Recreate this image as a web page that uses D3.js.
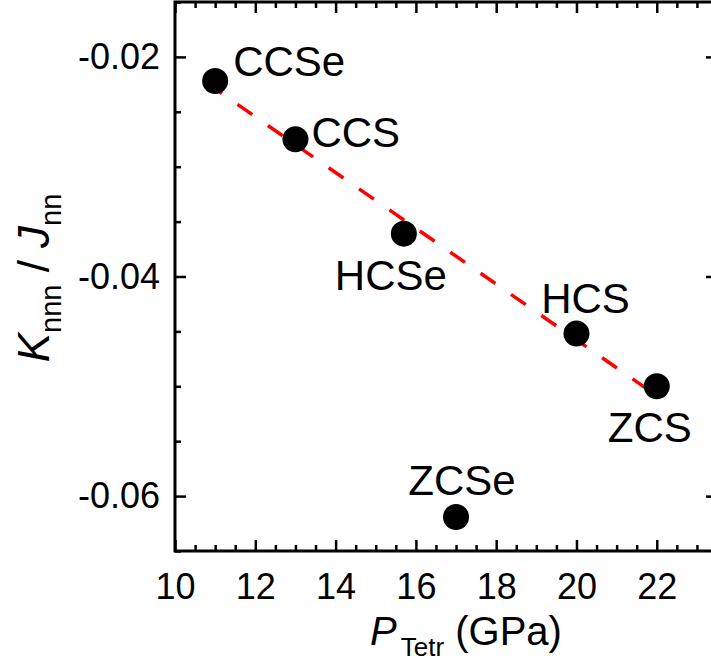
<!DOCTYPE html>
<html>
<head>
<meta charset="utf-8">
<script src="https://cdn.jsdelivr.net/npm/d3@7"></script>
<style>
  body { margin: 0; background: #fff; }
  svg { display: block; font-family: Arial, "Liberation Sans", sans-serif; }
</style>
</head>
<body>
<svg id="chart" width="711" height="666"></svg>
<script>
// compounds and their values
var names = ['CCSe', 'CCS', 'HCSe', 'HCS', 'ZCS', 'ZCSe'];
var pTetr = [11.0, 13.0, 15.7, 20.0, 22.0, 17.0];
var kRatio = [-0.0222, -0.0275, -0.0361, -0.0452, -0.0500, -0.0619];

// dashed red trend line ends
var fitX = [10.8, 21.9];
var fitY = [-0.0224, -0.0506];

var xTicks = [10, 12, 14, 16, 18, 20, 22];
var yTicks = [-0.02, -0.04, -0.06];

// label placement relative to each dot (px)
var labelPos = {
  CCSe: {dx: 18, dy: -5, anchor: 'start'},
  CCS:  {dx: 16, dy: 8, anchor: 'start'},
  HCSe: {dx: -13, dy: 56, anchor: 'middle'},
  HCS:  {dx: 9, dy: -21, anchor: 'middle'},
  ZCS:  {dx: -7, dy: 56, anchor: 'middle'},
  ZCSe: {dx: 6, dy: -22, anchor: 'middle'}
};

var
  margin = {top: 2, right: -6, bottom: 115, left: 175},
  W = 711, H = 666,
  svg = d3.select('#chart'),
  x = d3.scaleLinear().domain([10, 23.5]).range([margin.left, W - margin.right]),
  y = d3.scaleLinear().domain([-0.065, -0.015]).range([H - margin.bottom, margin.top]);

var xMinor = d3.range(10, 23.51, 0.5).filter(v => xTicks.indexOf(v) < 0);
var yMinor = d3.range(-0.065, -0.0149, 0.005).map(v => +v.toFixed(3)).filter(v => yTicks.indexOf(v) < 0);

function styleAxis(g) {
  g.attr('font-family', null).attr('font-size', null);
  g.select('.domain').remove();
  g.selectAll('line').attr('stroke', '#000').attr('stroke-width', 2.5);
  g.selectAll('text').attr('font-size', '36px').attr('fill', '#000');
}

var y0 = y.range()[0], y1 = y.range()[1];

// bottom
svg.append('g').attr('transform', `translate(0,${y0})`)
  .call(d3.axisBottom(x).tickValues(xTicks).tickSizeInner(-11).tickPadding(22).tickFormat(d => d))
  .call(styleAxis);
svg.append('g').attr('transform', `translate(0,${y0})`)
  .call(d3.axisBottom(x).tickValues(xMinor).tickSizeInner(-6).tickFormat(''))
  .call(styleAxis);
// top
svg.append('g').attr('transform', `translate(0,${y1})`)
  .call(d3.axisTop(x).tickValues(xTicks).tickSizeInner(-11).tickFormat(''))
  .call(styleAxis);
svg.append('g').attr('transform', `translate(0,${y1})`)
  .call(d3.axisTop(x).tickValues(xMinor).tickSizeInner(-6).tickFormat(''))
  .call(styleAxis);
// left
svg.append('g').attr('transform', `translate(${x(10)},0)`)
  .call(d3.axisLeft(y).tickValues(yTicks).tickSizeInner(-11).tickPadding(15).tickFormat(d => d.toFixed(2)))
  .call(styleAxis);
svg.append('g').attr('transform', `translate(${x(10)},0)`)
  .call(d3.axisLeft(y).tickValues(yMinor).tickSizeInner(-6).tickFormat(''))
  .call(styleAxis);
// right
svg.append('g').attr('transform', `translate(${x(23.5)},0)`)
  .call(d3.axisRight(y).tickValues(yTicks).tickSizeInner(-11).tickFormat(''))
  .call(styleAxis);
svg.append('g').attr('transform', `translate(${x(23.5)},0)`)
  .call(d3.axisRight(y).tickValues(yMinor).tickSizeInner(-6).tickFormat(''))
  .call(styleAxis);

// frame
svg.append('rect')
  .attr('x', x(10)).attr('y', y1)
  .attr('width', x(23.5) - x(10)).attr('height', y0 - y1)
  .attr('fill', 'none').attr('stroke', '#000').attr('stroke-width', 3);

// fit line
svg.append('line')
  .attr('x1', x(fitX[0])).attr('y1', y(fitY[0]))
  .attr('x2', x(fitX[1])).attr('y2', y(fitY[1]))
  .attr('stroke', '#ff0000').attr('stroke-width', 3.5)
  .attr('stroke-dasharray', '18,19');

var pts = names.map((n, i) => ({name: n, x: pTetr[i], y: kRatio[i]}));

svg.selectAll('.dot')
  .data(pts)
  .enter()
  .append('circle')
  .attr('class', 'dot')
  .attr('cx', d => x(d.x))
  .attr('cy', d => y(d.y))
  .attr('r', 13)
  .attr('fill', '#000');

svg.selectAll('.lbl')
  .data(pts)
  .enter()
  .append('text')
  .attr('class', 'lbl')
  .attr('x', d => x(d.x) + labelPos[d.name].dx)
  .attr('y', d => y(d.y) + labelPos[d.name].dy)
  .attr('text-anchor', d => labelPos[d.name].anchor)
  .attr('font-size', '42px')
  .text(d => d.name);

// x title
var xt = svg.append('text')
  .attr('x', 466).attr('y', 645)
  .attr('text-anchor', 'middle')
  .attr('font-size', '40px');
xt.append('tspan').attr('font-style', 'italic').text('P');
xt.append('tspan').attr('font-size', '26px').attr('dy', 11).attr('dx', 4).text('Tetr');
xt.append('tspan').attr('dy', -11).text(' (GPa)');

// y title
var yt = svg.append('text')
  .attr('transform', 'translate(49,278) rotate(-90)')
  .attr('text-anchor', 'middle')
  .attr('font-size', '44px');
yt.append('tspan').attr('font-style', 'italic').text('K');
yt.append('tspan').attr('font-size', '29px').attr('dy', 12).text('nnn');
yt.append('tspan').attr('dy', -12).text(' / ');
yt.append('tspan').attr('font-style', 'italic').text('J');
yt.append('tspan').attr('font-size', '29px').attr('dy', 12).text('nn');
</script>
</body>
</html>
